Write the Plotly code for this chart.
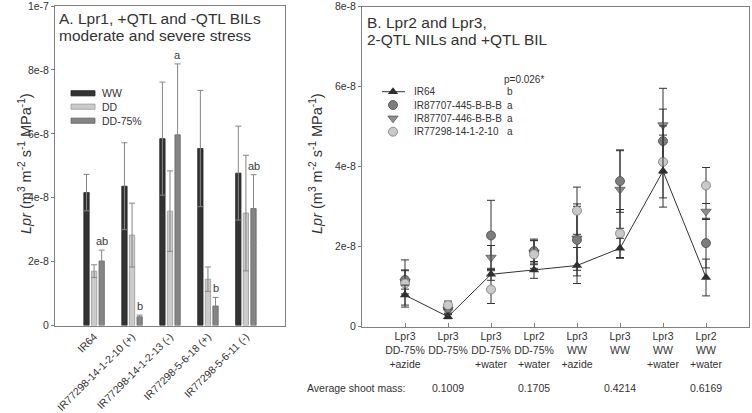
import plotly.graph_objects as go

W, H = 752, 413
FONT = "Liberation Sans, Arial, sans-serif"
TXT = "#333333"
AX = "#808080"

# ---------------- Panel A data ----------------
genotypes_A = ["IR64", "IR77298-14-1-2-10 (+)", "IR77298-14-1-2-13 (-)",
               "IR77298-5-6-18 (+)", "IR77298-5-6-11 (-)"]
ww = [4.16e-8, 4.36e-8, 5.85e-8, 5.54e-8, 4.77e-8]
ww_err = [0.57e-8, 1.36e-8, 1.77e-8, 1.82e-8, 1.47e-8]
dd = [1.70e-8, 2.83e-8, 3.58e-8, 1.45e-8, 3.52e-8]
dd_err = [0.20e-8, 1.00e-8, 1.26e-8, 0.38e-8, 1.81e-8]
dd75 = [2.02e-8, 0.275e-8, 5.97e-8, 0.61e-8, 3.66e-8]
dd75_err = [0.34e-8, 0.05e-8, 2.22e-8, 0.27e-8, 1.06e-8]
dd75_letters = ["ab", "b", "a", "b", "ab"]
yticks_A = [0, 2e-8, 4e-8, 6e-8, 8e-8, 1e-7]
yticklabels_A = ["0", "2e-8", "4e-8", "6e-8", "8e-8", "1e-7"]

# ---------------- Panel B data ----------------
treatments_B = ["Lpr3<br>DD-75%<br>+azide", "Lpr3<br>DD-75%", "Lpr3<br>DD-75%<br>+water",
                "Lpr2<br>DD-75%<br>+water", "Lpr3<br>WW<br>+azide", "Lpr3<br>WW",
                "Lpr3<br>WW<br>+water", "Lpr2<br>WW<br>+water"]
ir64 = [0.79e-8, 0.25e-8, 1.31e-8, 1.42e-8, 1.53e-8, 1.96e-8, 3.89e-8, 1.23e-8]
ir64_err = [0.25e-8, 0.05e-8, 0.15e-8, 0.21e-8, 0.45e-8, 0.25e-8, 0.90e-8, 0.46e-8]
nil445 = [1.17e-8, 0.46e-8, 2.28e-8, 1.89e-8, 2.17e-8, 3.64e-8, 4.64e-8, 2.09e-8]
nil445_err = [0.23e-8, 0.12e-8, 0.88e-8, 0.30e-8, 0.90e-8, 0.78e-8, 0.80e-8, 0.62e-8]
nil446 = [1.12e-8, 0.42e-8, 1.73e-8, 1.85e-8, 2.21e-8, 3.43e-8, 5.04e-8, 2.88e-8]
nil446_err = [0.30e-8, 0.10e-8, 0.30e-8, 0.30e-8, 0.80e-8, 0.97e-8, 0.92e-8, 0.20e-8]
bil = [1.08e-8, 0.54e-8, 0.93e-8, 1.81e-8, 2.90e-8, 2.33e-8, 4.12e-8, 3.53e-8]
bil_err = [0.59e-8, 0.10e-8, 0.35e-8, 0.35e-8, 0.59e-8, 0.60e-8, 0.90e-8, 0.45e-8]
names_B = ["IR64", "IR87707-445-B-B-B", "IR87707-446-B-B-B", "IR77298-14-1-2-10"]
letters_B = ["b", "a", "a", "a"]
shoot_mass_pos = [1, 3, 5, 7]
shoot_mass = ["0.1009", "0.1705", "0.4214", "0.6169"]
yticks_B = [0, 2e-8, 4e-8, 6e-8, 8e-8]
yticklabels_B = ["0", "2e-8", "4e-8", "6e-8", "8e-8"]

ytitle = "<i>Lpr</i> (m<sup>3</sup> m<sup>-2</sup> s<sup>-1</sup> MPa<sup>-1</sup>)"

fig = go.Figure()

bar_styles = [("WW", ww, ww_err, "#333333", "#222222"),
              ("DD", dd, dd_err, "#cbcbcb", "#9a9a9a"),
              ("DD-75%", dd75, dd75_err, "#858585", "#666666")]
xA = list(range(len(genotypes_A)))
for name, vals, errs, fc, lc in bar_styles:
    fig.add_trace(go.Bar(
        x=xA, y=vals, name=name, xaxis="x", yaxis="y",
        marker=dict(color=fc, line=dict(color=lc, width=0.8)),
        error_y=dict(type="data", array=errs, visible=True, color="#858585",
                     thickness=1, width=3),
        showlegend=False))

xB = list(range(len(treatments_B)))
series_B = [
    (nil446, nil446_err, dict(symbol="triangle-down", size=9, color="#8f8f8f",
                              line=dict(color="#5a5a5a", width=0.8))),
    (nil445, nil445_err, dict(symbol="circle", size=9, color="#7d7d7d",
                              line=dict(color="#4a4a4a", width=0.8))),
    (bil, bil_err, dict(symbol="circle", size=9, color="#c9c9c9",
                        line=dict(color="#7a7a7a", width=0.8))),
]
for vals, errs, mk in series_B:
    fig.add_trace(go.Scatter(
        x=xB, y=vals, mode="markers", xaxis="x2", yaxis="y2", marker=mk,
        error_y=dict(type="data", array=errs, visible=True, color="#333333",
                     thickness=1, width=4),
        showlegend=False))
fig.add_trace(go.Scatter(
    x=xB, y=ir64, mode="lines+markers", xaxis="x2", yaxis="y2",
    line=dict(color="#333333", width=1),
    marker=dict(symbol="triangle-up", size=9, color="#2f2f2f"),
    error_y=dict(type="data", array=ir64_err, visible=True, color="#333333",
                 thickness=1, width=4),
    showlegend=False))

# ---------- overlay pixel axis for legends / titles ----------
leg_marks = [
    dict(symbol="triangle-up", size=9, color="#2f2f2f"),
    series_B[1][2], series_B[0][2], series_B[2][2]]
rows_B = [91.7, 105, 118.3, 131.7]
for (mk, yy) in zip(leg_marks, rows_B):
    fig.add_trace(go.Scatter(x=[393], y=[yy], mode="markers", marker=mk,
                             xaxis="x3", yaxis="y3", showlegend=False,
                             hoverinfo="skip"))

shapes = []
annotations = []
LEGF = dict(size=10, color=TXT, family=FONT)
# panel B legend line for IR64
shapes.append(dict(type="line", xref="x3", yref="y3", x0=382, x1=405,
                   y0=rows_B[0], y1=rows_B[0], line=dict(color="#333333", width=1)))
for name, let, yy in zip(names_B, letters_B, rows_B):
    annotations.append(dict(xref="x3", yref="y3", x=412, y=yy, text=name,
                            xanchor="left", yanchor="middle", showarrow=False,
                            font=LEGF))
    annotations.append(dict(xref="x3", yref="y3", x=505, y=yy, text=let,
                            xanchor="left", yanchor="middle", showarrow=False,
                            font=LEGF))
annotations.append(dict(xref="x3", yref="y3", x=502, y=79, text="p=0.026*",
                        xanchor="left", yanchor="middle", showarrow=False,
                        font=LEGF))

# panel A legend
rows_A = [93.3, 106.7, 120.7]
for (name, _, _, fc, lc), yy in zip(bar_styles, rows_A):
    shapes.append(dict(type="rect", xref="x3", yref="y3", x0=71, x1=95,
                       y0=yy - 2.6, y1=yy + 2.6, fillcolor=fc,
                       line=dict(color=lc, width=0.8)))
    annotations.append(dict(xref="x3", yref="y3", x=100, y=yy, text=name,
                            xanchor="left", yanchor="middle", showarrow=False,
                            font=dict(size=10.5, color=TXT, family=FONT)))

# titles
for txt, xx, yy in [("A. Lpr1, +QTL and -QTL BILs", 57, 18.5),
                    ("moderate and severe stress", 57, 35.5),
                    ("B. Lpr2 and Lpr3,", 365, 22),
                    ("2-QTL NILs and +QTL BIL", 365, 39.5)]:
    annotations.append(dict(xref="x3", yref="y3", x=xx, y=yy, text=txt,
                            xanchor="left", yanchor="middle", showarrow=False,
                            font=dict(size=15.5, color=TXT, family=FONT)))

# y axis titles
for xx in [25, 316]:
    annotations.append(dict(xref="x3", yref="y3", x=xx, y=164, text=ytitle,
                            textangle=-90, xanchor="center", yanchor="middle",
                            showarrow=False,
                            font=dict(size=14.5, color=TXT, family=FONT)))

# significance letters panel A (above DD-75% bars)
for i, (v, e, let) in enumerate(zip(dd75, dd75_err, dd75_letters)):
    annotations.append(dict(xref="x", yref="y", x=i + 0.2, y=v + e, text=let,
                            xanchor="center", yanchor="bottom", showarrow=False,
                            yshift=1, font=dict(size=11, color="#3a3a3a", family=FONT)))

# shoot mass row
annotations.append(dict(xref="x3", yref="y3", x=305, y=387.5,
                        text="Average shoot mass:", xanchor="left",
                        yanchor="middle", showarrow=False,
                        font=dict(size=10.5, color=TXT, family=FONT)))
for p, m in zip(shoot_mass_pos, shoot_mass):
    annotations.append(dict(xref="x2", yref="y3", x=p, y=387.5, text=m,
                            xanchor="center", yanchor="middle", showarrow=False,
                            font=dict(size=10.5, color=TXT, family=FONT)))

common_axis = dict(showgrid=False, zeroline=False, showline=True, linecolor=AX,
                   linewidth=1, mirror=True, automargin=False,
                   ticklabeloverflow="allow",
                   tickfont=dict(size=10.5, color=TXT, family=FONT))

fig.update_layout(
    width=W, height=H, margin=dict(l=0, r=0, t=0, b=0, autoexpand=False),
    paper_bgcolor="white", plot_bgcolor="rgba(0,0,0,0)",
    font=dict(family=FONT, color=TXT),
    barmode="group", bargap=0.4, bargroupgap=0.3,
    showlegend=False,
    xaxis=dict(domain=[55 / W, 285 / W], range=[-1.03, 5.03], anchor="y",
               tickmode="array", tickvals=xA, ticktext=genotypes_A,
               tickangle=-45, ticks="", **common_axis),
    yaxis=dict(domain=[1 - 325.5 / H, 1 - 6 / H], range=[0, 1.0002e-7], anchor="x",
               tickmode="array", tickvals=yticks_A, ticktext=yticklabels_A,
               ticks="outside", ticklen=3, tickcolor=AX, **common_axis),
    xaxis2=dict(domain=[362 / W, 749 / W], range=[-1, 8], anchor="y2",
                tickmode="array", tickvals=xB, ticktext=treatments_B,
                ticks="inside", ticklen=4, tickcolor=AX, **common_axis),
    yaxis2=dict(domain=[1 - 326.7 / H, 1 - 6.7 / H], range=[0, 8.0002e-8], anchor="x2",
                tickmode="array", tickvals=yticks_B, ticktext=yticklabels_B,
                ticks="outside", ticklen=3, tickcolor=AX, **common_axis),
    xaxis3=dict(domain=[0, 1], range=[0, W], anchor="y3", visible=False,
                fixedrange=True, automargin=False),
    yaxis3=dict(domain=[0, 1], range=[H, 0], anchor="x3", visible=False,
                fixedrange=True, automargin=False),
    shapes=shapes, annotations=annotations,
)

fig.write_html("out.html", config={"displayModeBar": False},
               post_script="document.body.style.margin='0';"
                           "document.body.style.overflow='hidden';")
